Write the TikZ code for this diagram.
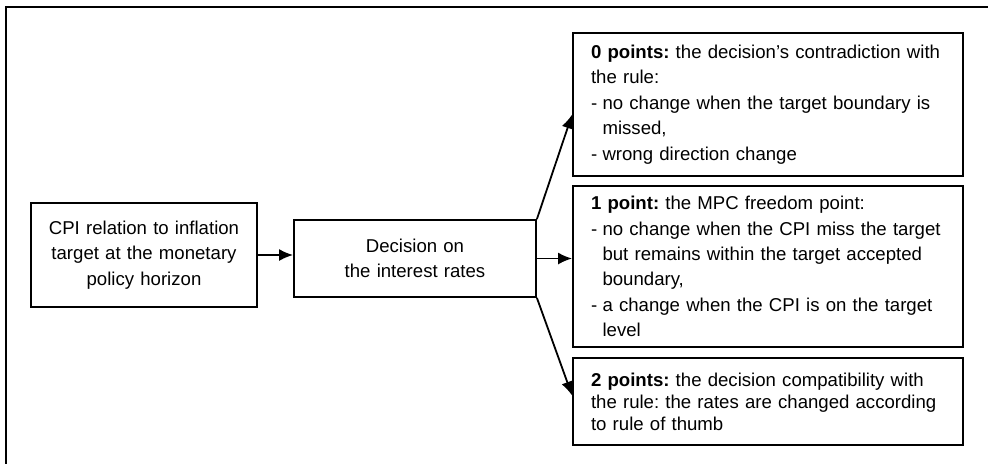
\documentclass[tikz,border=0pt]{standalone}
\usepackage{fontspec}
\setmainfont{Liberation Sans}
\usetikzlibrary{positioning, arrows.meta}

\tikzset{
	box/.style={draw, rectangle, line width=0.9pt, inner ysep=0pt, font=\fontsize{9.3}{12.7}\selectfont\frenchspacing},
	pointbox/.style={box, text width=177pt, inner xsep=9pt, align=left},
}
\newcommand{\dashitem}{\par\hangindent=0.62em\hangafter=1\noindent\makebox[0.62em][l]{-}}
\hyphenpenalty=10000
\exhyphenpenalty=10000

\begin{document}
\begin{tikzpicture}[x=0.5pt, y=-0.5pt, ->, >={Latex[length=7pt,width=6pt]}]

		\useasboundingbox (0,0) rectangle (988,463);
		\draw[-, line width=0.8pt] (6,480) -- (6,7) -- (1000,7);

		\node[box, text width=100pt, inner xsep=6.5pt, minimum height=52pt, align=center] (cpi) at (144,255) {CPI relation to inflation\\target at the monetary\\policy horizon};
		\node[box, text width=108pt, inner xsep=6.5pt, minimum height=38.5pt, align=center] (decision) at (415,258.5) {Decision on\\the interest rates};

		\node[pointbox, minimum height=71.5pt] (zero) at (768,104.5) {\textbf{0 points:} the decision's contradiction with\newline the rule:
			\dashitem no change when the target boundary is\newline missed,
			\dashitem wrong direction change\par};
		\node[pointbox, minimum height=80.5pt] (one) at (768,266.5) {\textbf{1 point:} the MPC freedom point:
			\dashitem no change when the CPI miss the target\newline but remains within the target accepted\newline boundary,
			\dashitem a change when the CPI is on the target\newline level\par};
		\node[pointbox, minimum height=43.5pt, font=\fontsize{9.3}{11}\selectfont\frenchspacing] (two) at (768,401.5) {\textbf{2 points:} the decision compatibility with\newline the rule: the rates are changed according\newline to rule of thumb};

		\path[line width=0.9pt] (cpi.east) edge (cpi.east -| decision.west);
		\path[line width=0.9pt] (decision.east) edge (decision.east -| one.west);
		\path[line width=0.9pt] (decision.north east) edge ([yshift=-5pt]zero.west);
		\path[line width=0.9pt] (decision.south east) edge ([yshift=3pt]two.west);

	\end{tikzpicture}
\end{document}
